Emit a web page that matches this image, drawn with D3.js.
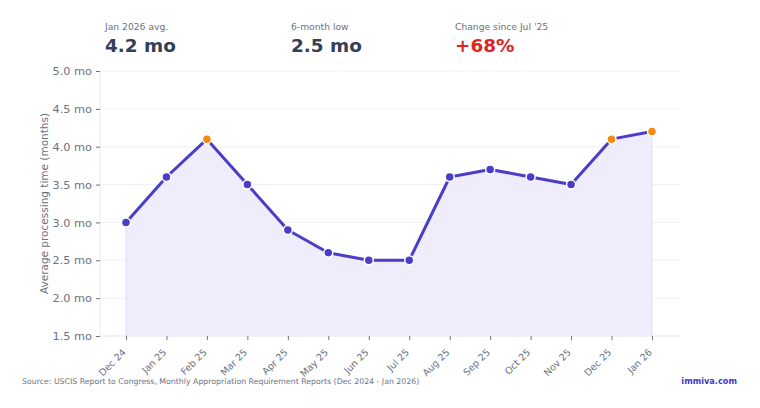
<!DOCTYPE html>
<html><head><meta charset="utf-8">
<script src="https://cdn.jsdelivr.net/npm/d3@7"></script>
<style>
html,body{margin:0;padding:0;background:#fff;}
svg{display:block;font-family:"DejaVu Sans",sans-serif;}
</style></head>
<body>
<svg id="chart" width="760" height="408"></svg>
<script>
const months = ["Dec 24","Jan 25","Feb 25","Mar 25","Apr 25","May 25","Jun 25","Jul 25","Aug 25","Sep 25","Oct 25","Nov 25","Dec 25","Jan 26"];
const values = [3.0,3.6,4.1,3.5,2.9,2.6,2.5,2.5,3.6,3.7,3.6,3.5,4.1,4.2];
const highlight = [false,false,true,false,false,false,false,false,false,false,false,false,true,true];
const yTicks = [1.5,2.0,2.5,3.0,3.5,4.0,4.5,5.0];
const stats = [
  {label:"Jan 2026 avg.", value:"4.2 mo", color:"#334155"},
  {label:"6-month low", value:"2.5 mo", color:"#334155"},
  {label:"Change since Jul '25", value:"+68%", color:"#dc2626"}
];
const statX = [105,291,455];

const svg = d3.select("#chart");
const L=100, R=680, T=71, B=336;
const x = d3.scalePoint().domain(months).range([126,652]).padding(0);
const y = d3.scaleLinear().domain([1.5,5.0]).range([B,T]);

// grid
svg.append("g").selectAll("line").data(yTicks).join("line")
  .attr("x1",L).attr("x2",R).attr("y1",d=>y(d)).attr("y2",d=>y(d))
  .attr("stroke","#f0f0f4").attr("stroke-width",1);

// axis lines
svg.append("line").attr("x1",L).attr("x2",L).attr("y1",T).attr("y2",B).attr("stroke","#ebebf3");
svg.append("line").attr("x1",L).attr("x2",R).attr("y1",B).attr("y2",B).attr("stroke","#ebebf3");

// area
const data = months.map((m,i)=>({m, v:values[i], h:highlight[i]}));
svg.append("path").datum(data)
  .attr("d", d3.area().x(d=>x(d.m)).y0(y(1.5)).y1(d=>y(d.v)))
  .attr("fill","#efedfb").attr("stroke","none");
svg.append("line").attr("x1",x(months[0])).attr("x2",x(months[0])).attr("y1",y(values[0])).attr("y2",B).attr("stroke","#e2defa");
svg.append("line").attr("x1",x(months[months.length-1])).attr("x2",x(months[months.length-1])).attr("y1",y(values[values.length-1])).attr("y2",B).attr("stroke","#e2defa");

// line
svg.append("path").datum(data)
  .attr("d", d3.line().x(d=>x(d.m)).y(d=>y(d.v)))
  .attr("fill","none").attr("stroke","#4a3dc8").attr("stroke-width",3).attr("stroke-linejoin","round");

// points
svg.append("g").selectAll("circle").data(data).join("circle")
  .attr("cx",d=>x(d.m)).attr("cy",d=>y(d.v)).attr("r",4.5)
  .attr("fill",d=>d.h?"#f28a12":"#4a3dc8").attr("stroke","#fff").attr("stroke-width",1.5);

// y axis
const ya = svg.append("g").attr("transform",`translate(${L},0)`)
  .call(d3.axisLeft(y).tickValues(yTicks).tickFormat(d=>d.toFixed(1)+" mo").tickSize(4).tickPadding(4));
ya.select(".domain").remove();
ya.selectAll(".tick line").attr("stroke","#6b7280");
ya.selectAll("text").attr("fill","#6b7280").attr("font-size",11.3).attr("font-family","DejaVu Sans");

// x axis
const xa = svg.append("g").attr("transform",`translate(0,${B})`)
  .call(d3.axisBottom(x).tickSize(4).tickPadding(4));
xa.select(".domain").remove();
xa.selectAll(".tick line").attr("stroke","#6b7280");
xa.selectAll("text").attr("fill","#6b7280").attr("font-size",9.5).attr("font-family","DejaVu Sans")
  .attr("text-anchor","end").attr("x",0).attr("y",0).attr("dy",0)
  .attr("transform","translate(0,17) rotate(-45)");

// y title
svg.append("text").attr("transform",`translate(48,${(T+B)/2}) rotate(-90)`)
  .attr("text-anchor","middle").attr("fill","#6b7280").attr("font-size",10.5)
  .text("Average processing time (months)");

// stats
stats.forEach((s,i)=>{
  svg.append("text").attr("x",statX[i]).attr("y",29.5).attr("fill","#6b7280").attr("font-size",9.2).text(s.label);
  svg.append("text").attr("x",statX[i]).attr("y",51.5).attr("fill",s.color).attr("font-size",18.4).attr("font-weight","bold").text(s.value);
});

// footer
svg.append("text").attr("x",22).attr("y",384).attr("fill","#6b7280").attr("font-size",7.8)
  .text("Source: USCIS Report to Congress, Monthly Appropriation Requirement Reports (Dec 2024 - Jan 2026)");
svg.append("text").attr("x",737).attr("y",384).attr("text-anchor","end").attr("fill","#4338ca").attr("font-size",8.2).attr("font-weight","bold")
  .text("immiva.com");
</script>
</body></html>
